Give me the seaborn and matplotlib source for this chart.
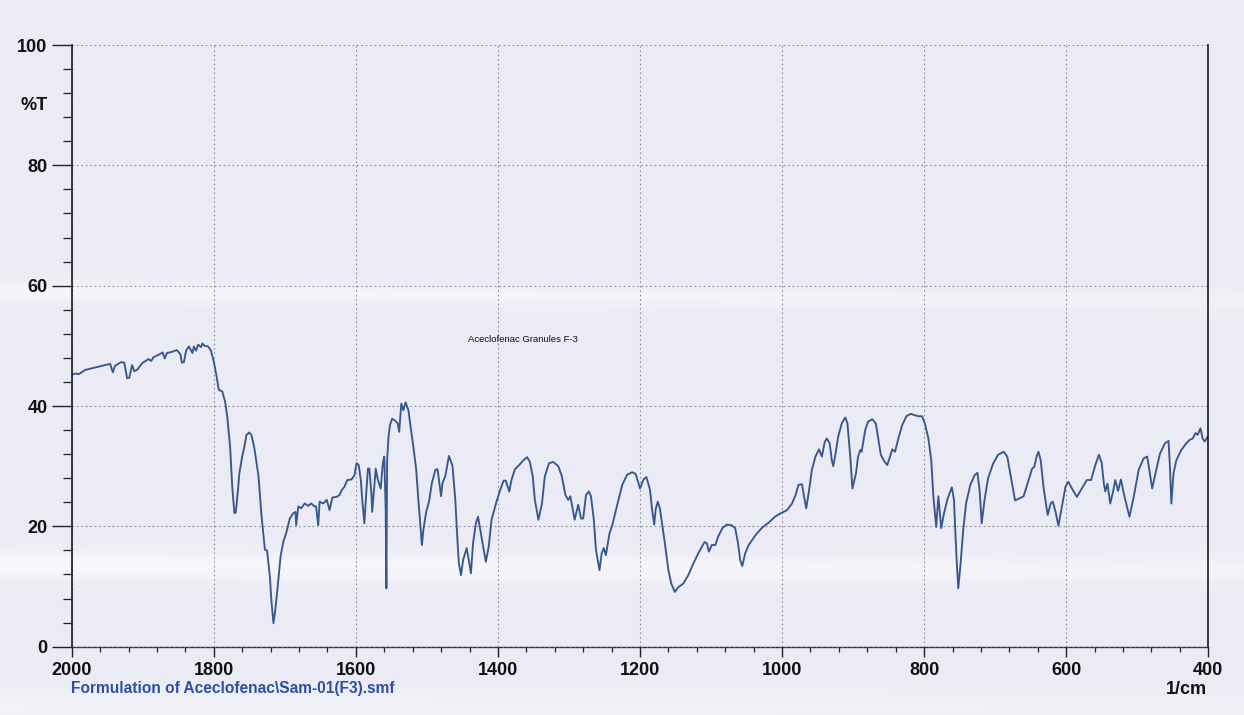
import numpy as np
import pandas as pd
import matplotlib
matplotlib.use("Agg")
import matplotlib.pyplot as plt
import seaborn as sns
from matplotlib.ticker import MultipleLocator

# IR spectrum of the granule formulation (wavenumber in 1/cm, transmittance in %T)
wavenumber = [
    2000, 1995, 1990, 1981, 1967, 1953, 1946, 1942, 1939, 1930, 1926, 1922, 1919, 1915,
    1912, 1908, 1901, 1892, 1888, 1885, 1878, 1872, 1869, 1866, 1859, 1852, 1847, 1845,
    1842, 1839, 1835, 1830, 1828, 1825, 1822, 1818, 1816, 1813, 1808, 1804, 1800, 1796,
    1793, 1788, 1784, 1781, 1777, 1774, 1771, 1769, 1766, 1764, 1760, 1757, 1754, 1750,
    1747, 1743, 1737, 1733, 1728, 1725, 1721, 1719, 1716, 1714, 1710, 1706, 1702, 1698,
    1693, 1688, 1685, 1684, 1681, 1677, 1672, 1667, 1663, 1658, 1656, 1653, 1651, 1646,
    1641, 1637, 1633, 1627, 1623, 1620, 1616, 1612, 1606, 1602, 1599, 1596, 1593, 1591,
    1588, 1586, 1583, 1581, 1578, 1577, 1574, 1572, 1569, 1565, 1562, 1560, 1558, 1557,
    1556, 1554, 1552, 1549, 1545, 1541, 1539, 1536, 1533, 1530, 1526, 1523, 1519, 1515,
    1512, 1509, 1507, 1505, 1501, 1497, 1493, 1488, 1485, 1480, 1478, 1474, 1469, 1464,
    1460, 1457, 1455, 1452, 1449, 1444, 1441, 1438, 1435, 1431, 1428, 1424, 1420, 1417,
    1413, 1409, 1402, 1397, 1392, 1389, 1384, 1381, 1376, 1370, 1364, 1359, 1355, 1351,
    1348, 1343, 1338, 1334, 1328, 1322, 1315, 1310, 1305, 1301, 1298, 1295, 1292, 1287,
    1283, 1280, 1276, 1272, 1269, 1265, 1262, 1257, 1254, 1251, 1248, 1243, 1239, 1232,
    1225, 1218, 1211, 1206, 1200, 1195, 1191, 1186, 1183, 1180, 1178, 1175, 1172, 1169,
    1165, 1160, 1156, 1151, 1146, 1139, 1132, 1125, 1118, 1113, 1109, 1106, 1103, 1099,
    1094, 1090, 1084, 1078, 1071, 1066, 1062, 1059, 1056, 1052, 1047, 1037, 1028, 1019,
    1010, 1000, 993, 986, 981, 977, 972, 969, 966, 962, 958, 953, 948, 944,
    940, 937, 933, 930, 928, 925, 921, 916, 911, 908, 904, 901, 896, 893,
    890, 888, 883, 879, 873, 868, 865, 861, 856, 852, 848, 845, 841, 837,
    831, 825, 819, 814, 808, 803, 799, 794, 790, 787, 783, 780, 776, 772,
    767, 761, 758, 756, 754, 752, 749, 745, 741, 735, 729, 725, 722, 719,
    715, 710, 703, 696, 688, 683, 678, 672, 667, 660, 653, 648, 645, 641,
    639, 636, 632, 628, 626, 622, 619, 615, 611, 606, 601, 597, 592, 585,
    578, 571, 565, 559, 554, 550, 547, 545, 542, 538, 534, 531, 527, 523,
    519, 514, 511, 505, 498, 491, 486, 483, 479, 475, 468, 461, 456, 454,
    452, 449, 445, 438, 431, 426, 422, 418, 415, 411, 408, 405, 401, 400,
]
transmittance = [
    45.2, 45.4, 45.3, 46.0, 46.4, 46.8, 47.0, 45.6, 46.7, 47.3, 47.2, 44.6, 44.7, 46.8,
    45.8, 46.0, 47.1, 47.8, 47.5, 48.1, 48.5, 48.9, 47.9, 48.8, 49.0, 49.3, 48.6, 47.2,
    47.3, 49.2, 49.9, 48.8, 49.9, 49.2, 50.2, 49.8, 50.4, 50.0, 49.9, 49.2, 47.4, 44.9,
    42.7, 42.4, 40.7, 38.2, 33.2, 26.6, 22.2, 22.3, 26.0, 28.8, 31.6, 33.2, 35.2, 35.6,
    35.2, 33.1, 28.3, 22.0, 16.1, 16.0, 11.6, 7.8, 3.9, 5.5, 10.0, 15.0, 17.5, 18.9,
    21.3, 22.2, 22.4, 20.2, 23.3, 23.0, 23.8, 23.4, 23.8, 23.3, 23.3, 20.2, 24.1, 23.8,
    24.4, 22.7, 24.8, 24.9, 25.2, 26.0, 26.6, 27.7, 27.8, 28.5, 30.5, 30.2, 27.7, 24.4,
    20.5, 24.4, 29.6, 29.6, 25.3, 22.4, 26.6, 29.6, 27.7, 26.3, 30.5, 31.6, 22.7, 9.7,
    31.0, 34.9, 36.8, 37.9, 37.6, 37.1, 35.7, 40.4, 39.3, 40.6, 39.3, 36.6, 33.2, 29.4,
    24.4, 20.0, 16.9, 19.4, 22.4, 24.1, 27.2, 29.4, 29.5, 25.0, 27.2, 28.4, 31.7, 30.1,
    24.4, 17.7, 13.9, 11.9, 14.4, 16.4, 14.4, 12.2, 17.2, 20.5, 21.6, 18.8, 16.1, 14.1,
    16.6, 21.1, 24.1, 26.0, 27.6, 27.6, 25.8, 27.7, 29.5, 30.2, 31.0, 31.5, 30.7, 28.3,
    24.4, 21.1, 23.8, 28.3, 30.5, 30.7, 30.0, 28.3, 25.2, 24.4, 25.0, 23.0, 21.1, 23.6,
    21.3, 21.3, 25.2, 25.8, 25.0, 21.1, 16.1, 12.7, 15.5, 16.4, 15.2, 18.8, 20.2, 23.6,
    26.9, 28.6, 29.0, 28.7, 26.3, 27.8, 28.2, 26.1, 22.8, 20.3, 22.8, 24.1, 23.0, 20.5,
    17.2, 12.7, 10.5, 9.1, 9.9, 10.5, 11.9, 13.8, 15.5, 16.6, 17.4, 17.2, 15.8, 16.9,
    16.9, 18.3, 19.7, 20.3, 20.2, 19.7, 17.2, 14.4, 13.4, 15.5, 16.9, 18.6, 19.8, 20.6,
    21.6, 22.3, 22.7, 23.8, 25.2, 26.9, 27.0, 24.9, 23.0, 26.0, 29.4, 31.6, 32.8, 31.6,
    34.0, 34.6, 33.8, 31.0, 30.0, 31.9, 34.9, 37.1, 38.1, 37.1, 31.6, 26.3, 28.8, 31.6,
    32.7, 32.4, 36.0, 37.4, 37.8, 37.1, 34.9, 31.9, 30.8, 30.2, 31.6, 32.8, 32.4, 34.3,
    36.8, 38.3, 38.7, 38.5, 38.3, 38.3, 37.1, 34.6, 31.0, 24.9, 19.9, 25.0, 19.7, 22.2,
    24.6, 26.5, 24.4, 18.8, 13.9, 9.7, 13.4, 19.4, 23.8, 26.9, 28.5, 28.9, 26.1, 20.5,
    24.4, 28.0, 30.4, 31.9, 32.4, 31.6, 28.3, 24.3, 24.6, 25.0, 27.7, 29.6, 29.9, 31.9,
    32.4, 31.0, 26.6, 23.3, 21.9, 23.8, 24.1, 22.4, 20.1, 23.3, 26.6, 27.4, 26.3, 24.9,
    26.3, 27.7, 27.7, 30.2, 31.9, 30.5, 27.1, 25.8, 27.1, 23.8, 25.8, 27.7, 25.9, 27.8,
    25.5, 23.0, 21.6, 24.9, 29.4, 31.3, 31.6, 29.4, 26.3, 28.5, 32.1, 33.8, 34.2, 29.9,
    23.8, 28.8, 31.0, 32.7, 33.8, 34.4, 34.6, 35.5, 35.2, 36.3, 34.6, 34.1, 34.9, 35.0,
]

x_ticks = [2000, 1800, 1600, 1400, 1200, 1000, 800, 600, 400]
y_ticks = [0, 20, 40, 60, 80, 100]
sample_label = "Aceclofenac Granules F-3"
file_label = "Formulation of Aceclofenac\\Sam-01(F3).smf"
y_label = "%T"
x_unit = "1/cm"

spectrum = pd.DataFrame({"wavenumber": wavenumber, "T": transmittance})

sns.set_theme(style="white")
plt.rcParams["font.family"] = ["Liberation Sans", "DejaVu Sans"]

W, H = 1244, 715
fig = plt.figure(figsize=(W / 100, H / 100), dpi=100)

# paper-like backdrop with a few soft lighter streaks
bg = fig.add_axes([0, 0, 1, 1], zorder=-10)
yy = np.arange(H)[:, None].astype(float)
xx = np.arange(W)[None, :].astype(float)
paper = np.array([234, 235, 244]) / 255.0
light = np.zeros((H, W))
for cy, slope, sig, amp in [(291, 0.008, 8, 0.55), (565, 0.004, 11, 0.65), (708, 0.0, 14, 0.4)]:
    centre = cy + slope * xx
    fade = 1.0 - 0.35 * (xx / W)
    light = np.maximum(light, amp * fade * np.exp(-0.5 * ((yy - centre) / sig) ** 2))
img = paper[None, None, :] + (1 - paper[None, None, :]) * light[..., None]
bg.imshow(img, aspect="auto", interpolation="bilinear")
bg.axis("off")

ax = fig.add_axes([71.7 / W, 1 - 646.7 / H, (1208.3 - 71.7) / W, (646.7 - 45.0) / H])
ax.patch.set_alpha(0)

sns.lineplot(data=spectrum, x="wavenumber", y="T", ax=ax, sort=False,
             estimator=None, color="#38588c", linewidth=1.35)

ax.set_xlim(2000, 400)
ax.set_ylim(0, 100)
ax.set_xticks(x_ticks)
ax.set_yticks(y_ticks)
ax.xaxis.set_minor_locator(MultipleLocator(40))
ax.yaxis.set_minor_locator(MultipleLocator(4))
ax.set_xlabel("")
ax.set_ylabel("")

ax.grid(which="major", color="#8c8c94", linestyle=(0, (1.5, 2.5)), linewidth=0.8)
ax.grid(which="minor", visible=False)

for side in ("left", "right"):
    ax.spines[side].set_color("#1a1a1a")
    ax.spines[side].set_linewidth(1.2)
ax.spines["top"].set_visible(False)
ax.spines["bottom"].set_color("#333333")
ax.spines["bottom"].set_linewidth(1.0)
ax.spines["bottom"].set_linestyle((0, (2.5, 1.2)))

ax.tick_params(axis="x", which="major", direction="out", length=7.2, width=1.0,
               color="#222222", pad=4, labelsize=13, bottom=True, top=False)
ax.tick_params(axis="x", which="minor", direction="out", length=3.6, width=0.9,
               color="#222222", bottom=True, top=False)
ax.tick_params(axis="y", which="major", direction="out", length=14.4, width=1.0,
               color="#222222", pad=3, labelsize=13, left=True, right=False)
ax.tick_params(axis="y", which="minor", direction="out", length=6.5, width=0.9,
               color="#222222", left=True, right=False)
for lab in ax.get_xticklabels() + ax.get_yticklabels():
    lab.set_fontweight("bold")
    lab.set_color("#111111")

ax.text(1442, 51, sample_label, fontsize=6.8, ha="left", va="center", color="#111111",
        family=["Liberation Sans", "DejaVu Sans"])

fig.text(34 / W, 1 - 106 / H, y_label, fontsize=13, fontweight="bold",
         ha="center", va="center", color="#111111")
fig.text(1207 / W, 1 - 689 / H, x_unit, fontsize=13, fontweight="bold",
         ha="right", va="center", color="#111111")
fig.text(71 / W, 1 - 689 / H, file_label, fontsize=11.2, fontweight="bold",
         ha="left", va="center", color="#2f4fa0")

fig.savefig("out.png", dpi=100)
